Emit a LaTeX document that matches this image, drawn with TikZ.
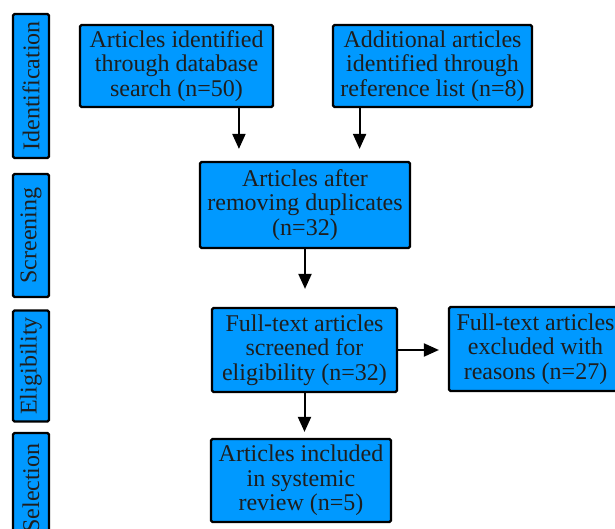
\documentclass[tikz,border=0pt]{standalone}
\usepackage{fontspec}
\setmainfont{Liberation Serif}
\usetikzlibrary{arrows.meta,positioning}
\definecolor{boxblue}{HTML}{0099FF}
\definecolor{boxtext}{HTML}{1E1E1E}

\begin{document}
\begin{tikzpicture}[x=1pt,y=-1pt,
  box/.style={draw,line width=2.2pt,rounded corners=1.5pt,fill=boxblue,text=boxtext,
    align=center,inner sep=0pt,font=\fontsize{24}{24.5}\selectfont},
  phase/.style={box,rotate=90,minimum height=36pt},
  arj/.style={line width=2pt,-{Triangle[length=15pt,width=13pt]}}]
\useasboundingbox (0,0) rectangle (615,529);
% phases on the left
\node[phase,minimum width=144pt] (ident) at (31,86) {Identification};
\node[phase,minimum width=123pt] (screen) at (31,235.5) {Screening};
\node[phase,minimum width=111pt] (elig) at (31,366) {Eligibility};
\node[phase,minimum width=110pt] (select) at (31,488) {Selection};
% flow
\node[box,minimum width=193pt,minimum height=82pt] (search) at (176.5,66)
  {Articles identified\\through database\\search (n=50)};
\node[box,minimum width=199pt,minimum height=82pt] (refs) at (432.5,66)
  {Additional articles\\identified through\\reference list (n=8)};
\node[box,minimum width=210pt,minimum height=86pt] (dedup) at (305,205)
  {Articles after\\removing duplicates\\(n=32)};
\node[box,minimum width=185pt,minimum height=84pt] (full) at (304.5,350)
  {Full-text articles\\screened for\\eligibility (n=32)};
\node[box,minimum width=173pt,minimum height=84pt] (excl) at (535.5,349)
  {Full-text articles\\excluded with\\reasons (n=27)};
\node[box,minimum width=180pt,minimum height=83pt] (incl) at (301,480.5)
  {Articles included\\in systemic\\review (n=5)};
\draw[arj,shorten >=12pt] (search.-34) -- (search.-34 |- dedup.north);
\draw[arj,shorten >=12pt] (refs.-150) -- (refs.-150 |- dedup.north);
\draw[arj,shorten >=18pt] (dedup.south) -- (dedup.south |- full.north);
\draw[arj,shorten >=9pt] (full.east) -- (full.east -| excl.west);
\draw[arj,shorten >=6pt] (full.south) -- (full.south |- incl.north);
\end{tikzpicture}
\end{document}
